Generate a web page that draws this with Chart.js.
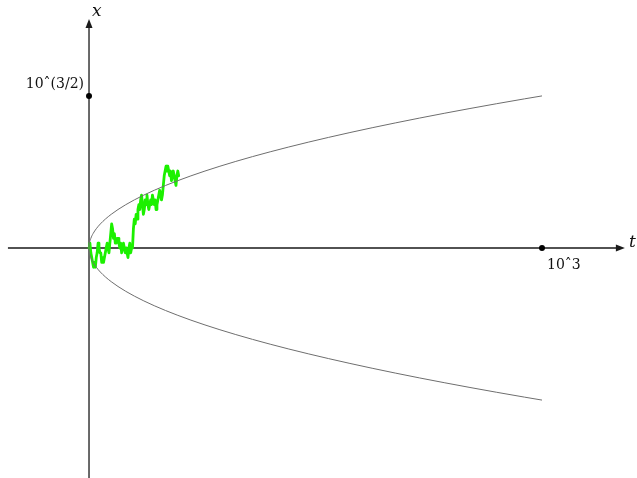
<!DOCTYPE html>
<html>
<head>
<meta charset="utf-8">
<title>Random walk and sqrt(t) envelope</title>
<script src="https://cdn.jsdelivr.net/npm/chart.js@4.4.1/dist/chart.umd.min.js"></script>
<style>
    html, body { margin: 0; padding: 0; background: #fff; }
    #wrap { width: 637px; height: 478px; }
</style>
</head>
<body>
<div id="wrap"><canvas id="walkChart" width="637" height="478"></canvas></div>
<script>
// Envelope x = ±sqrt(t), sampled at perfect squares up to t = 10^3
const curveT = [0, 1, 4, 9, 16, 25, 36, 49, 64, 81, 100, 121, 144, 169, 196, 225, 256, 289,
    324, 361, 400, 441, 484, 529, 576, 625, 676, 729, 784, 841, 900, 961, 1000];
const curveX = [0, 1, 2, 3, 4, 5, 6, 7, 8, 9, 10, 11, 12, 13, 14, 15, 16, 17,
    18, 19, 20, 21, 22, 23, 24, 25, 26, 27, 28, 29, 30, 31, 31.62];

// Random walk path, one value every 2 steps (t = 0, 2, 4, ... 198)
const walkStep = 2;
const walkX = [
    0, 1, -1, -2, -3, -4, -3, -4, -2, -1,
    1, 0, -1, -1, -3, -2, -3, -2, -1, 0,
    1, 0, -1, 1, 3, 5, 4, 2, 3, 1,
    1, 2, 2, 1, 0, 1, -1, 0, 1, 0,
    -1, 0, -1, -2, 0, 1, -1, 0, 0, 4,
    6, 5, 7, 6, 8, 9, 8, 10, 11, 9,
    7, 8, 10, 9, 11, 9, 8, 9, 10, 9,
    11, 10, 9, 10, 8, 9, 10, 11, 12, 11,
    10, 11, 13, 15, 16, 17, 16, 17, 16, 15,
    16, 14, 15, 16, 15, 14, 13, 15, 16, 15
];

// Marked ticks on each axis
const tickT = [1000];
const tickTLabels = ['10ˆ3'];
const tickX = [31.62];
const tickXLabels = ['10ˆ(3/2)'];

// Axis extents (data units) and visible window
const axisT = [-179, 1183];
const axisX = [-48, 47.6];
const viewT = [-196.5, 1209.7];
const viewX = [-47.82, 51.56];

const upper = curveT.map((t, i) => ({ x: t, y: curveX[i] }));
const lower = curveT.map((t, i) => ({ x: t, y: -curveX[i] }));
const walk = walkX.map((v, i) => ({ x: i * walkStep, y: v }));
const tickDots = tickT.map(t => ({ x: t, y: 0 })).concat(tickX.map(v => ({ x: 0, y: v })));

const SERIF = '"DejaVu Serif", "Liberation Serif", serif';

function arrowHead(ctx, x, y, dir) {
    // dir: 'right' or 'up'
    ctx.beginPath();
    if (dir === 'right') {
        ctx.moveTo(x, y);
        ctx.lineTo(x - 9, y - 3.5);
        ctx.lineTo(x - 9, y + 3.5);
    } else {
        ctx.moveTo(x, y);
        ctx.lineTo(x - 3.5, y + 9);
        ctx.lineTo(x + 3.5, y + 9);
    }
    ctx.closePath();
    ctx.fill();
}

const axesPlugin = {
    id: 'axesArrows',
    beforeDatasetsDraw(chart) {
        const { ctx, scales: { x: sx, y: sy } } = chart;
        const x0 = sx.getPixelForValue(0);
        const y0 = sy.getPixelForValue(0);
        const tEnd = sx.getPixelForValue(axisT[1]);
        const xEnd = sy.getPixelForValue(axisX[1]);
        ctx.save();
        ctx.strokeStyle = '#1a1a1a';
        ctx.fillStyle = '#1a1a1a';
        ctx.lineWidth = 1.3;
        ctx.beginPath();
        ctx.moveTo(sx.getPixelForValue(axisT[0]), y0);
        ctx.lineTo(tEnd - 4, y0);
        ctx.moveTo(x0, sy.getPixelForValue(axisX[0]));
        ctx.lineTo(x0, xEnd + 4);
        ctx.stroke();
        arrowHead(ctx, tEnd, y0, 'right');
        arrowHead(ctx, x0, xEnd, 'up');
        ctx.restore();
    },
    afterDatasetsDraw(chart) {
        const { ctx, scales: { x: sx, y: sy } } = chart;
        const x0 = sx.getPixelForValue(0);
        const y0 = sy.getPixelForValue(0);
        ctx.save();
        ctx.fillStyle = '#111';
        ctx.font = 'italic 17px ' + SERIF;
        ctx.textBaseline = 'alphabetic';
        ctx.textAlign = 'left';
        ctx.fillText('x', x0 + 3, sy.getPixelForValue(axisX[1]) - 3);
        ctx.fillText('t', sx.getPixelForValue(axisT[1]) + 4, y0 - 1);

        ctx.font = '14px ' + SERIF;
        tickT.forEach((t, i) => {
            ctx.textAlign = 'left';
            ctx.fillText(tickTLabels[i], sx.getPixelForValue(t) + 5, y0 + 21);
        });
        tickX.forEach((v, i) => {
            ctx.textAlign = 'right';
            ctx.fillText(tickXLabels[i], x0 - 5, sy.getPixelForValue(v) - 8);
        });
        ctx.restore();
    }
};

new Chart(document.getElementById('walkChart').getContext('2d'), {
    type: 'scatter',
    data: {
        datasets: [
            {
                data: upper,
                showLine: true,
                borderColor: '#6e6e6e',
                borderWidth: 1,
                pointRadius: 0,
                cubicInterpolationMode: 'monotone'
            },
            {
                data: lower,
                showLine: true,
                borderColor: '#6e6e6e',
                borderWidth: 1,
                pointRadius: 0,
                cubicInterpolationMode: 'monotone'
            },
            {
                data: walk,
                showLine: true,
                borderColor: '#1cf000',
                borderWidth: 2.8,
                borderJoinStyle: 'round',
                borderCapStyle: 'round',
                pointRadius: 0,
                tension: 0
            },
            {
                data: tickDots,
                showLine: false,
                pointRadius: 3,
                pointBackgroundColor: '#000',
                pointBorderColor: '#000',
                pointBorderWidth: 0
            }
        ]
    },
    options: {
        responsive: false,
        animation: false,
        layout: { padding: 0, autoPadding: false },
        plugins: {
            legend: { display: false },
            tooltip: { enabled: false }
        },
        scales: {
            x: { type: 'linear', display: false, min: viewT[0], max: viewT[1] },
            y: { type: 'linear', display: false, min: viewX[0], max: viewX[1] }
        }
    },
    plugins: [axesPlugin]
});
</script>
</body>
</html>
